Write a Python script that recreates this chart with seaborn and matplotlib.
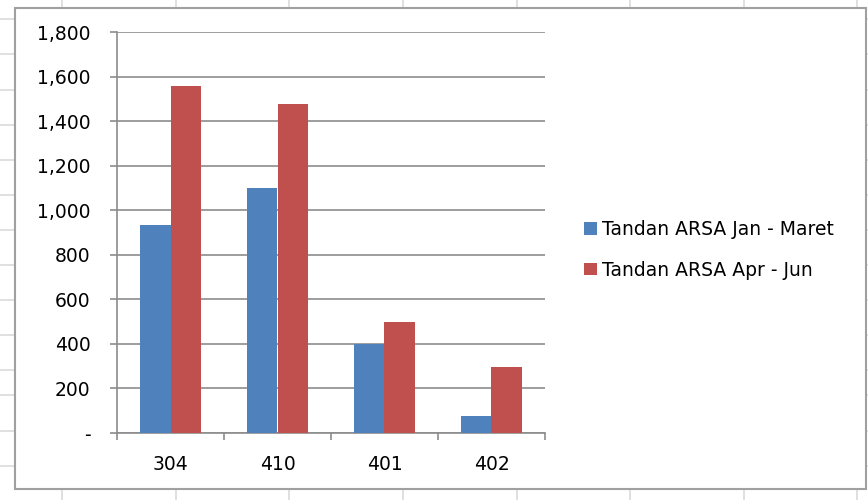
import pandas as pd
import matplotlib
matplotlib.use("Agg")
import matplotlib.pyplot as plt
from matplotlib.lines import Line2D
from matplotlib.patches import Rectangle
from matplotlib.ticker import FuncFormatter
import seaborn as sns

# Data
categories = ["304", "410", "401", "402"]
series_names = ["Tandan ARSA Jan - Maret", "Tandan ARSA Apr - Jun"]
jan_maret = [935, 1100, 400, 78]
apr_jun = [1558, 1476, 500, 295]
y_ticks = [0, 200, 400, 600, 800, 1000, 1200, 1400, 1600, 1800]

df = pd.DataFrame({
    "category": categories * 2,
    "series": [series_names[0]] * 4 + [series_names[1]] * 4,
    "value": jan_maret + apr_jun,
})

sns.set_theme(style="white")
plt.rcParams["font.family"] = ["DejaVu Sans"]

W, H = 868, 500
fig = plt.figure(figsize=(W / 100, H / 100), dpi=100)

# spreadsheet cell lines behind the chart object
for x in [62, 176, 289, 403, 517, 630, 744, 857]:
    fig.add_artist(Line2D([x / W, x / W], [0, 1], color="#dadada", lw=1.2, zorder=0))
for y in [19, 54, 90, 125, 160, 195, 230, 265, 300, 335, 370, 395, 431, 466]:
    fig.add_artist(Line2D([0, 1], [1 - y / H, 1 - y / H], color="#dadada", lw=1.2, zorder=0))

# chart area (white box with grey border)
fig.add_artist(Rectangle((15 / W, 1 - 489 / H), (866 - 15) / W, (489 - 8) / H,
                         facecolor="white", edgecolor="#a0a0a0", lw=1.5, zorder=1))

ax = fig.add_axes([117 / W, 1 - 433 / H, (545 - 117) / W, (433 - 32) / H])
ax.set_zorder(2)

palette = {series_names[0]: "#4F81BD", series_names[1]: "#C0504D"}
sns.barplot(data=df, x="category", y="value", hue="series", palette=palette,
            width=2 / 3.5, saturation=1, linewidth=0, edgecolor="none",
            ax=ax, zorder=3)

ax.set_ylim(0, 1800)
ax.set_xlim(-0.5, 3.5)
ax.set_yticks(y_ticks)
ax.yaxis.set_major_formatter(FuncFormatter(lambda v, p: "-" if v == 0 else f"{int(v):,}"))
ax.set_xlabel("")
ax.set_ylabel("")

grid_c = "#8c8c8c"
ax.grid(axis="y", color=grid_c, lw=1.2, zorder=0)
ax.set_axisbelow(True)
for s in ["top", "right"]:
    ax.spines[s].set_visible(False)
for s in ["left", "bottom"]:
    ax.spines[s].set_color(grid_c)
    ax.spines[s].set_linewidth(1.2)

# x tick marks sit between categories, labels at category centres
ax.set_xticks([-0.5, 0.5, 1.5, 2.5, 3.5], minor=False)
ax.set_xticklabels([])
ax.set_xticks([0, 1, 2, 3], minor=True)
ax.set_xticklabels(categories, minor=True)
ax.tick_params(axis="x", which="major", direction="out", length=5, width=1.2,
               color=grid_c, bottom=True)
ax.tick_params(axis="x", which="minor", length=0, pad=16, labelsize=13.5, labelcolor="black")
ax.tick_params(axis="y", direction="out", length=5, width=1.2, color=grid_c,
               left=True, pad=14, labelsize=13.5, labelcolor="black")

leg = ax.legend(loc="center left", bbox_to_anchor=(575 / W, 1 - 250 / H),
                bbox_transform=fig.transFigure, frameon=False, fontsize=13.5,
                handlelength=0.65, handleheight=0.65, handletextpad=0.3,
                labelspacing=1.15, borderpad=0)
for t in leg.get_texts():
    t.set_color("black")

fig.savefig("out.png", dpi=100, facecolor="white")
